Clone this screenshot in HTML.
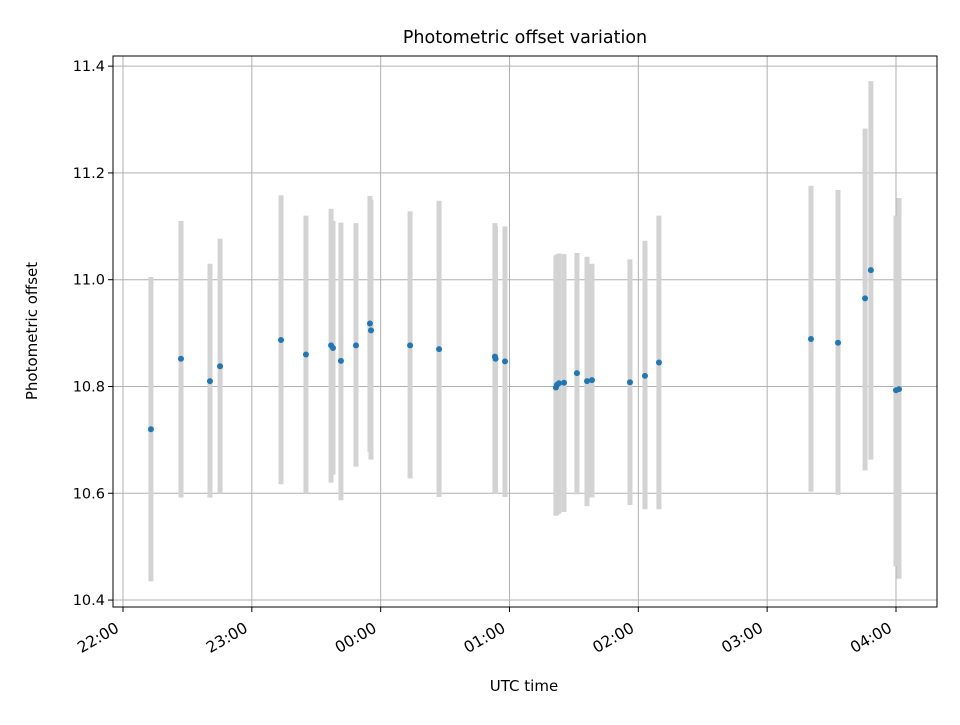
<!DOCTYPE html>
<html><head><meta charset="utf-8"><style>
body{margin:0;background:#fff;font-family:"Liberation Sans","DejaVu Sans",sans-serif}
svg text{font-family:"DejaVu Sans","Liberation Sans",sans-serif}
</style></head><body>
<svg id="chart" width="960" height="720"></svg>
<script>
// minutes since 22:00 UTC
const times=[13.0,27.0,40.5,45.2,73.6,85.2,96.9,97.8,101.5,108.5,115.0,115.5,133.7,147.2,173.2,173.5,177.9,201.6,202.1,203.0,205.4,211.4,216.1,218.4,236.1,243.1,249.6,320.4,333.0,345.6,348.3,360.0,361.4];
const offsets=[10.72,10.852,10.81,10.838,10.887,10.86,10.877,10.872,10.848,10.877,10.918,10.905,10.877,10.87,10.856,10.852,10.847,10.798,10.803,10.806,10.807,10.825,10.81,10.812,10.808,10.82,10.845,10.889,10.882,10.965,11.018,10.793,10.795];
const upper=[11.005,11.11,11.03,11.077,11.158,11.12,11.133,11.11,11.107,11.106,11.157,11.15,11.128,11.148,11.106,11.1,11.1,11.045,11.047,11.049,11.048,11.05,11.043,11.03,11.038,11.073,11.12,11.176,11.168,11.283,11.372,11.12,11.153];
const lower=[10.435,10.592,10.592,10.6,10.617,10.6,10.62,10.635,10.587,10.65,10.677,10.663,10.628,10.593,10.6,10.6,10.593,10.558,10.56,10.562,10.565,10.598,10.576,10.592,10.578,10.57,10.57,10.603,10.597,10.643,10.663,10.463,10.44];
const xTicks=[0,60,120,180,240,300,360];
const xTickLabels=["22:00","23:00","00:00","01:00","02:00","03:00","04:00"];
const yTicks=[10.4,10.6,10.8,11.0,11.2,11.4];
const yTickLabels=["10.4","10.6","10.8","11.0","11.2","11.4"];

const L=113,R=937,T=56,B=607;
const xMin=-4.66,xMax=379.1,yMin=10.387,yMax=11.419;
const X=v=>L+(v-xMin)/(xMax-xMin)*(R-L);
const Y=v=>B-(v-yMin)/(yMax-yMin)*(B-T);
const svg=document.getElementById('chart');
const NS='http://www.w3.org/2000/svg';
function mk(t,a,p){const e=document.createElementNS(NS,t);for(const k in a)e.setAttribute(k,a[k]);(p||svg).appendChild(e);return e;}

const grid=mk('g',{});


xTicks.forEach((t,i)=>{
  const l=mk('line',{x1:X(t),x2:X(t),y1:T,y2:B,stroke:'#b0b0b0','stroke-width':1},grid);
  
  
  mk('line',{x1:X(t),x2:X(t),y1:B,y2:B+5,stroke:'#000','stroke-width':1});
  const ax=X(t)-3, ay=B+24;
  const tx=mk('text',{x:ax,y:ay,'font-size':15.5,'text-anchor':'end',transform:`rotate(-30 ${ax} ${ay})`});
  tx.textContent=xTickLabels[i];
  
  
});
yTicks.forEach((t,i)=>{
  const l=mk('line',{x1:L,x2:R,y1:Y(t),y2:Y(t),stroke:'#b0b0b0','stroke-width':1},grid);
  
  
  mk('line',{x1:L-5,x2:L,y1:Y(t),y2:Y(t),stroke:'#000','stroke-width':1});
  const tx=mk('text',{x:L-8,y:Y(t)+5,'font-size':14.5,'text-anchor':'end'});
  tx.textContent=yTickLabels[i];
  
  
});
times.forEach((t,i)=>{
  const e=mk('line',{x1:X(t),x2:X(t),y1:Y(upper[i]),y2:Y(lower[i]),stroke:'#d3d3d3','stroke-width':5});
  
  
});
times.forEach((t,i)=>{
  const c=mk('circle',{cx:X(t),cy:Y(offsets[i]),r:3,fill:'#1f77b4'});
  
  
});
const fr=mk('rect',{x:L,y:T,width:R-L,height:B-T,fill:'none',stroke:'#000','stroke-width':1});


const ti=mk('text',{x:(L+R)/2,y:43,'font-size':17.5,'text-anchor':'middle'});
ti.textContent='Photometric offset variation';


const xl=mk('text',{x:(L+R)/2-1,y:691,'font-size':15,'text-anchor':'middle'});
xl.textContent='UTC time';


const yl=mk('text',{x:37,y:331,'font-size':15,'text-anchor':'middle',transform:'rotate(-90 37 331)'});
yl.textContent='Photometric offset';


</script>
</body></html>
